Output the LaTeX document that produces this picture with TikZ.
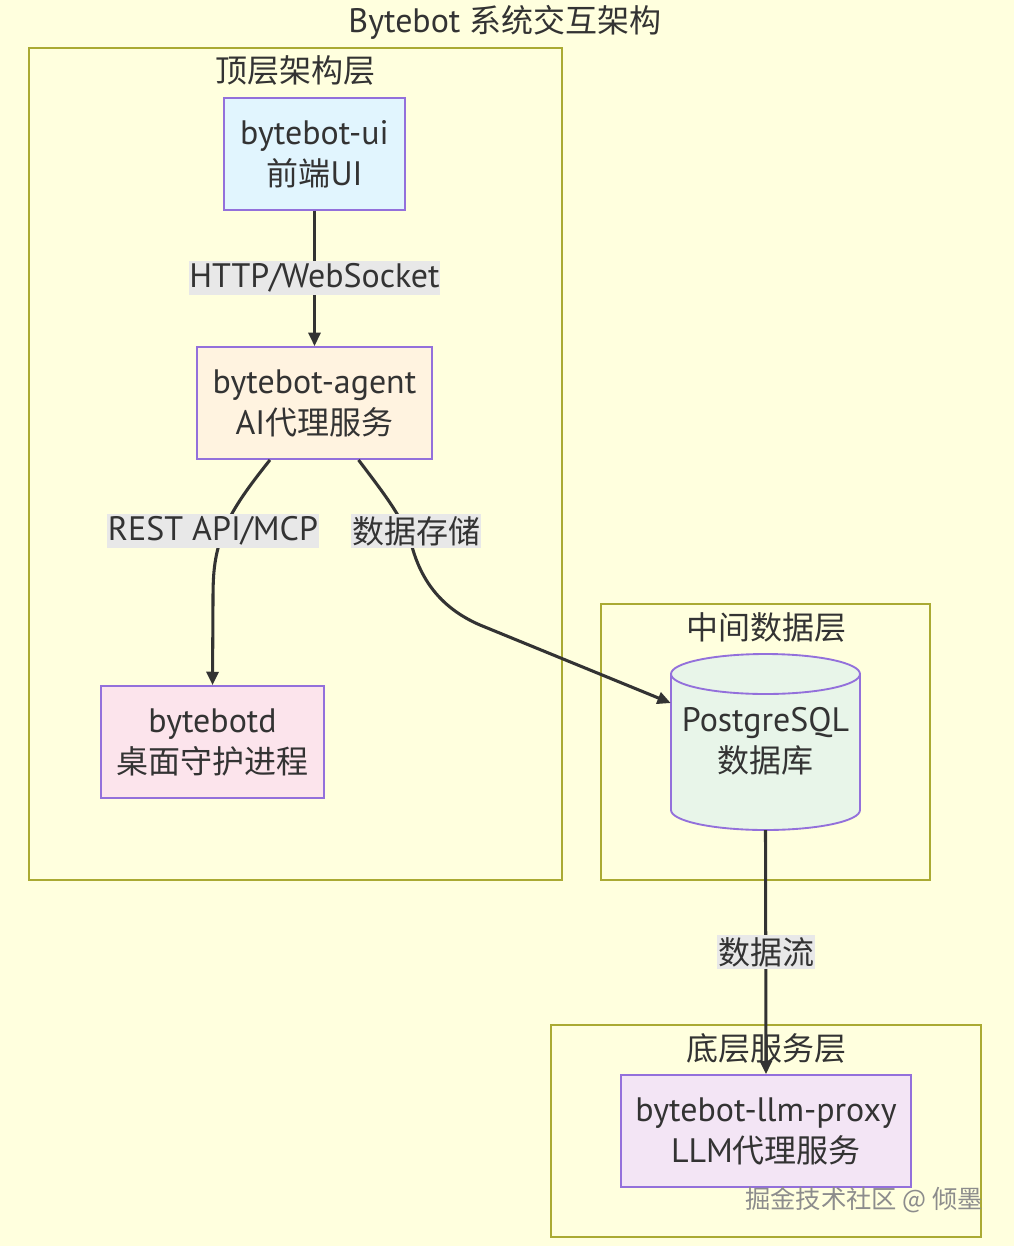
\documentclass[tikz,border=0pt]{standalone}
\usepackage{fontspec}
\setmainfont{PT Sans}[Scale=1.06]
\newfontfamily\cjk{Noto Sans CJK SC}
\usetikzlibrary{arrows.meta,calc}
\definecolor{bgyellow}{HTML}{FFFFDE}
\definecolor{clusterline}{HTML}{AAAA33}
\definecolor{nodeline}{HTML}{9370DB}
\definecolor{inkc}{HTML}{333333}
\definecolor{labelbg}{HTML}{E8E8E8}
\definecolor{uifill}{HTML}{E1F5FE}
\definecolor{agentfill}{HTML}{FFF3E0}
\definecolor{dfill}{HTML}{FCE4EC}
\definecolor{dbfill}{HTML}{E8F5E9}
\definecolor{llmfill}{HTML}{F3E5F5}
\tikzset{
  txt/.style={text=inkc, font=\fontsize{24pt}{30.75pt}\selectfont, align=center, inner sep=0pt},
  box/.style={txt, draw=nodeline, line width=1.4pt, minimum height=84pt},
  cluster/.style={draw=clusterline, line width=1.4pt, fill=bgyellow},
  elabel/.style={txt, fill=labelbg, inner xsep=0.5pt, minimum height=26pt},
  link/.style={draw=inkc, line width=2.3pt, -{Triangle[length=10pt,width=9pt]}}
}
\begin{document}
\begin{tikzpicture}[x=0.75pt,y=-0.75pt]
\useasboundingbox (0,0) rectangle (1014,1246);
\fill[bgyellow] (0,0) rectangle (1014,1246);

% title
\node[txt] (title) at (505,22) {Bytebot {\cjk 系统交互架构}};

% clusters
\draw[cluster] (29,48) rectangle (562,880);
\node[txt] (c1) at (295,70) {\cjk 顶层架构层};
\draw[cluster] (601,604) rectangle (930,880);
\node[txt] (c2) at (766,627) {\cjk 中间数据层};
\draw[cluster] (551,1025) rectangle (981,1237);
\node[txt] (c3) at (766,1048) {\cjk 底层服务层};

% nodes
\node[box, fill=uifill, minimum width=135.75pt] (ui) at (314.5,154) {bytebot-ui\\{\cjk 前端}UI};
\node[box, fill=agentfill, minimum width=176.25pt] (agent) at (314.5,403) {bytebot-agent\\AI{\cjk 代理服务}};
\node[box, fill=dfill, minimum width=167.25pt] (bd) at (212.5,742) {bytebotd\\{\cjk 桌面守护进程}};
\node[box, fill=llmfill, minimum width=217.5pt] (llm) at (766,1131) {bytebot-llm-proxy\\LLM{\cjk 代理服务}};

% cylinder (database)
\filldraw[fill=dbfill, draw=nodeline, line width=1.4pt]
  (671,674) -- (671,810) arc[start angle=180, end angle=0, x radius=94.5, y radius=20]
  -- (860,674) arc[start angle=0, end angle=-180, x radius=94.5, y radius=20] -- cycle;
\draw[draw=nodeline, line width=1.4pt]
  (671,674) arc[start angle=180, end angle=0, x radius=94.5, y radius=20];
\node[txt, minimum width=141.75pt, minimum height=131pt] (db) at (765.5,742.5) {};
\node[txt] (dbtext) at (765.5,741) {PostgreSQL\\{\cjk 数据库}};

% connectors
\draw[link] (ui.south) -- (agent.north);
\node[elabel] (l1) at (314.5,278) {HTTP/WebSocket};

\draw[link] ([xshift=-33.4pt]agent.south) .. controls (250,485) and (231,510) .. (222,535)
  .. controls (214,558) and (213,575) .. (213,600) -- (bd.north);
\node[elabel] (l2) at (213,531) {REST API/MCP};

\draw[link] ([xshift=33pt]agent.south) .. controls (385,495) and (405,520) .. (413,550)
  .. controls (425,590) and (450,612) .. (480,625) -- ([yshift=29.6pt]db.west);
\node[elabel] (l3) at (416,531) {\cjk 数据存储};

\draw[link] (db.south) -- (llm.north);
\node[elabel] (l4) at (766,952) {\cjk 数据流};

% watermark
\node[txt, text=gray!90, font=\fontsize{19pt}{22pt}\selectfont\cjk] (wm) at (864,1200) {掘金技术社区 @ 倾墨};
\end{tikzpicture}
\end{document}
